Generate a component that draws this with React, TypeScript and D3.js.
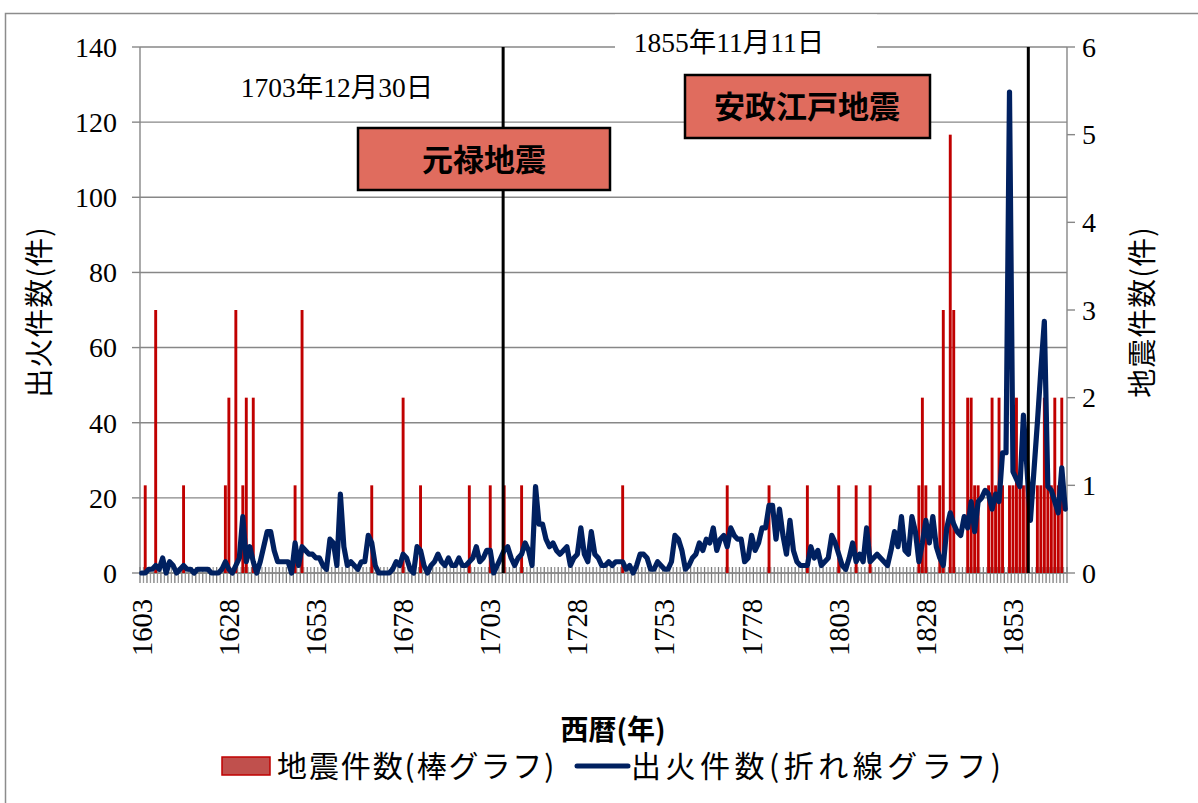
import * as d3 from 'd3';

// categories: one per year, 1603..1868
const years: number[] = d3.range(1603, 1869);

// 出火件数 (line), one value per year
const fireCounts: number[] = [
  0, 0, 1, 1, 2, 1, 4, 0, 3, 2, 0, 1, 2, 1, 1, 0, 1, 1, 1, 1,
  0, 0, 0, 1, 3, 1, 0, 2, 4, 15, 3, 7, 3, 0, 3, 7, 11, 11, 6, 3,
  3, 3, 3, 0, 8, 2, 7, 6, 5, 5, 4, 4, 2, 1, 9, 8, 2, 21, 7, 2,
  3, 2, 1, 3, 3, 10, 8, 2, 0, 0, 0, 0, 1, 3, 2, 5, 4, 1, 0, 7,
  6, 2, 0, 2, 3, 5, 3, 2, 4, 2, 2, 4, 2, 2, 3, 4, 7, 3, 4, 6,
  6, 0, 2, 4, 6, 7, 4, 2, 4, 5, 8, 6, 2, 23, 13, 13, 9, 7, 8, 6,
  5, 6, 7, 2, 4, 5, 12, 5, 3, 11, 5, 4, 2, 2, 3, 2, 3, 3, 3, 1,
  2, 0, 2, 5, 5, 4, 1, 1, 3, 2, 1, 1, 3, 10, 9, 6, 1, 2, 4, 5,
  8, 6, 9, 8, 12, 6, 9, 10, 7, 12, 10, 9, 9, 3, 4, 10, 6, 8, 12, 12,
  18, 18, 9, 17, 10, 5, 14, 6, 3, 2, 2, 2, 7, 4, 6, 2, 3, 4, 10, 8,
  5, 2, 1, 4, 8, 3, 5, 3, 12, 3, 4, 5, 4, 3, 2, 6, 11, 7, 15, 6,
  5, 15, 11, 3, 8, 14, 8, 15, 7, 4, 2, 12, 16, 13, 11, 10, 15, 12, 19, 11,
  19, 20, 22, 21, 17, 21, 19, 32, 32, 128, 27, 25, 23, 42, 28, 14, 27, 40, 54, 67,
  23, 22, 19, 16, 28, 17,
];

// 地震件数 (bars): only the years that have one
const quakeYears: number[] = [
  1604, 1607, 1615, 1627, 1628, 1630, 1632, 1633, 1635, 1647, 1649, 1669, 1678, 1683,
  1697, 1703, 1707, 1712, 1741, 1771, 1783, 1794, 1803, 1808, 1812,
  1826, 1827, 1828, 1832, 1833, 1835, 1836, 1840, 1841, 1842, 1843,
  1846, 1847, 1848, 1849, 1850, 1852, 1853, 1854, 1855, 1856, 1857,
  1860, 1861, 1862, 1863, 1864, 1865, 1866, 1867,
];
const quakeCounts: number[] = [
  1, 3, 1, 1, 2, 3, 1, 2, 2, 1, 3, 1, 2, 1,
  1, 1, 1, 1, 1, 1, 1, 1, 1, 1, 1,
  1, 2, 1, 1, 3, 5, 3, 2, 2, 1, 1,
  1, 2, 1, 2, 1, 1, 1, 2, 1, 1, 1,
  1, 1, 2, 1, 1, 2, 1, 2,
];

const labelYears = [1603, 1628, 1653, 1678, 1703, 1728, 1753, 1778, 1803, 1828, 1853];
const leftTicks = [0, 20, 40, 60, 80, 100, 120, 140];
const rightTicks = [0, 1, 2, 3, 4, 5, 6];

// event lines (position, in year units) and their labels
const eventLineYears = [1706.7, 1857.4];
const eventDates = ['1703年12月30日', '1855年11月11日'];
const eventNames = ['元禄地震', '安政江戸地震'];

const W = 1198;
const H = 803;
const margin = { top: 47, right: 131, bottom: 230, left: 140 };
const plotR = W - margin.right;
const plotB = H - margin.bottom;

const SERIF = "'Liberation Serif', 'Noto Sans CJK JP', serif";
const JP = "'Noto Sans CJK JP', sans-serif";
const GRID = '#878787';

export default function App() {
  const quakeByYear = new Map<number, number>();
  quakeYears.forEach((y, i) => quakeByYear.set(y, quakeCounts[i]));
  const rows = years.map((y, i) => ({ year: y, fire: fireCounts[i] ?? 0, quake: quakeByYear.get(y) ?? 0 }));

  const x = d3.scaleBand<number>().domain(years).range([margin.left, plotR]).padding(0);
  const step = x.step();
  const xPos = d3.scaleLinear().domain([years[0] - 0.5, years[years.length - 1] + 0.5]).range([margin.left, plotR]);
  const yL = d3.scaleLinear().domain([0, 140]).range([plotB, margin.top]);
  const yR = d3.scaleLinear().domain([0, 6]).range([plotB, margin.top]);

  const line = d3.line<{ year: number; fire: number }>()
    .x(d => (x(d.year) ?? 0) + step / 2)
    .y(d => yL(d.fire));

  const barW = 2.9;

  return (
    <svg width={W} height={H} style={{ position: 'absolute', left: 0, top: 0, background: '#fff' }}>
      {/* outer frame */}
      <rect x={5.5} y={13.5} width={W + 20} height={H + 20} fill="none" stroke="#8c8c8c" strokeWidth={1.5} />

      {/* gridlines */}
      {leftTicks.map(t => (
        <g key={'g' + t}>
          <line x1={margin.left} x2={plotR} y1={yL(t)} y2={yL(t)} stroke={GRID} strokeWidth={1.4} />
          <line x1={margin.left - 8} x2={margin.left} y1={yL(t)} y2={yL(t)} stroke={GRID} strokeWidth={1.4} />
          <text x={117} y={yL(t)} dy="0.35em" textAnchor="end" fontFamily={SERIF} fontSize={28}>{t}</text>
        </g>
      ))}
      {rightTicks.map(t => (
        <g key={'r' + t}>
          <line x1={plotR} x2={plotR + 8} y1={yR(t)} y2={yR(t)} stroke={GRID} strokeWidth={1.4} />
          <text x={plotR + 15} y={yR(t)} dy="0.35em" fontFamily={SERIF} fontSize={28}>{t}</text>
        </g>
      ))}
      <line x1={margin.left} x2={margin.left} y1={margin.top} y2={plotB} stroke={GRID} strokeWidth={1.4} />
      <line x1={plotR} x2={plotR} y1={margin.top} y2={plotB} stroke={GRID} strokeWidth={1.4} />

      {/* category ticks */}
      {d3.range(years.length + 1).map(i => (
        <line key={'t' + i} x1={margin.left + i * step} x2={margin.left + i * step} y1={plotB - 6} y2={plotB + 10}
          stroke={i % 2 ? '#9a9a9a' : '#7d7d7d'} strokeWidth={1.3} />
      ))}
      <line x1={margin.left} x2={plotR} y1={plotB} y2={plotB} stroke={GRID} strokeWidth={1.4} />

      {/* bars */}
      {rows.filter(d => d.quake > 0).map(d => (
        <rect key={'b' + d.year} x={(x(d.year) ?? 0) + step / 2 - barW / 2} y={yR(d.quake)} width={barW}
          height={plotB - yR(d.quake)} fill="#C00000" />
      ))}

      {/* fire line */}
      <path d={line(rows) ?? ''} fill="none" stroke="#002060" strokeWidth={5.2} strokeLinejoin="round" strokeLinecap="round" />

      {/* event lines */}
      {eventLineYears.map(y => (
        <line key={'e' + y} x1={xPos(y)} x2={xPos(y)} y1={margin.top} y2={plotB} stroke="#000" strokeWidth={3} />
      ))}

      {/* x labels */}
      {labelYears.map(y => {
        const cx = (x(y) ?? 0) + step / 2;
        return (
          <text key={'x' + y} transform={`translate(${cx},599) rotate(-90)`} textAnchor="end" dy="0.35em"
            fontFamily={SERIF} fontSize={28.5}>{y}</text>
        );
      })}

      {/* date labels */}
      <text x={337} y={97} textAnchor="middle" fontFamily={SERIF} fontSize={27.5}>{eventDates[0]}</text>
      <rect x={615} y={14.5} width={262} height={46} fill="#fff" />
      <text x={729} y={52} textAnchor="middle" fontFamily={SERIF} fontSize={27.5}>{eventDates[1]}</text>

      {/* name boxes */}
      <rect x={358} y={128} width={252} height={62} fill="#E06C5E" stroke="#000" strokeWidth={2.5} />
      <text x={484} y={160} dy="0.36em" textAnchor="middle" fontFamily={JP} fontWeight="bold" fontSize={31}>{eventNames[0]}</text>
      <rect x={685} y={75} width={245} height={63} fill="#E06C5E" stroke="#000" strokeWidth={2.5} />
      <text x={807} y={107} dy="0.36em" textAnchor="middle" fontFamily={JP} fontWeight="bold" fontSize={31}>{eventNames[1]}</text>

      {/* axis titles */}
      <text transform="translate(40,312) rotate(-90)" textAnchor="middle" dy="0.36em" fontFamily={JP} fontSize={29} letterSpacing={1}>出火件数(件)</text>
      <text transform="translate(1143,312) rotate(-90)" textAnchor="middle" dy="0.36em" fontFamily={JP} fontSize={29} letterSpacing={1}>地震件数(件)</text>
      <text x={613} y={730} textAnchor="middle" dy="0.36em" fontFamily={JP} fontWeight="bold" fontSize={28}>西暦(年)</text>

      {/* legend */}
      <rect x={222} y={757} width={48} height={18} fill="#C0504D" stroke="#C00000" strokeWidth={1.5} />
      <text x={277} y={766} dy="0.36em" fontFamily={JP} fontSize={30} letterSpacing={1.9}>地震件数(棒グラフ)</text>
      <line x1={577} x2={628} y1={766} y2={766} stroke="#002060" strokeWidth={5} strokeLinecap="round" />
      <text x={631} y={766} dy="0.36em" fontFamily={JP} fontSize={30} letterSpacing={4.5}>出火件数(折れ線グラフ)</text>
    </svg>
  );
}
